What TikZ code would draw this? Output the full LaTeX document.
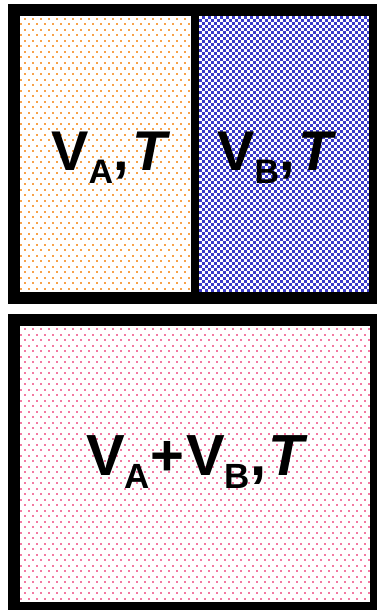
\documentclass[tikz,border=0pt]{standalone}
\usepackage{fontspec}
\setmainfont{Liberation Sans}

\definecolor{gasorange}{HTML}{F7A24A}
\definecolor{gasblue}{HTML}{3A3AC8}
\definecolor{gaspink}{HTML}{F27AA2}

\newcommand{\volsub}[2]{V\raisebox{-13pt}{\fontsize{#2}{#2}\selectfont #1}}

\begin{document}
\begin{tikzpicture}[x=1pt,y=-1pt,
  wall/.style={fill=black},
  dotrow/.style={line width=2pt,dash pattern=on 2pt off 6pt},
  checkrow/.style={line width=3pt,dash pattern=on 3pt off 3pt,gasblue},
  gaslabel/.style={anchor=base,inner sep=0pt,font=\bfseries\fontsize{56}{60}\selectfont}]
\useasboundingbox (0,0) rectangle (377,610);
% before mixing
\fill[wall] (8,4) rectangle (377,304);
\fill[white] (20,16) rectangle (191,292);
\begin{scope}
  \clip (20,16) rectangle (191,292);
  \foreach \y [count=\k] in {19,24.5,...,292} {
    \pgfmathsetmacro\ph{mod(\k,2)*4}
    \draw[dotrow,gasorange,dash phase=\ph pt] (20,\y) -- (191,\y);
  }
\end{scope}
\fill[white] (199,16) rectangle (369,292);
\begin{scope}
  \clip (199,16) rectangle (369,292);
  \foreach \y [count=\k] in {17.5,20.5,...,293} {
    \pgfmathsetmacro\ph{mod(\k,2)*3}
    \draw[checkrow,dash phase=\ph pt] (199,\y) -- (369,\y);
  }
\end{scope}
\node[gaslabel] (labA) at (111,170) {\volsub{A}{34},\hspace{4pt}\textit{T}};
\node[gaslabel] (labB) at (277,170) {\volsub{B}{34},\hspace{4pt}\textit{T}};
% after mixing
\fill[wall] (8,314) rectangle (377,610);
\fill[white] (20,326) rectangle (370,602);
\begin{scope}
  \clip (20,326) rectangle (370,602);
  \foreach \y [count=\k] in {329,334.5,...,602} {
    \pgfmathsetmacro\ph{mod(\k,2)*4}
    \draw[dotrow,gaspink,dash phase=\ph pt] (20,\y) -- (370,\y);
  }
\end{scope}
\node[gaslabel,font=\bfseries\fontsize{58}{62}\selectfont] (labAB) at (197,475)
  {\volsub{A}{35}+\hspace{2pt}\volsub{B}{35},\hspace{2pt}\textit{T}};
\end{tikzpicture}
\end{document}
